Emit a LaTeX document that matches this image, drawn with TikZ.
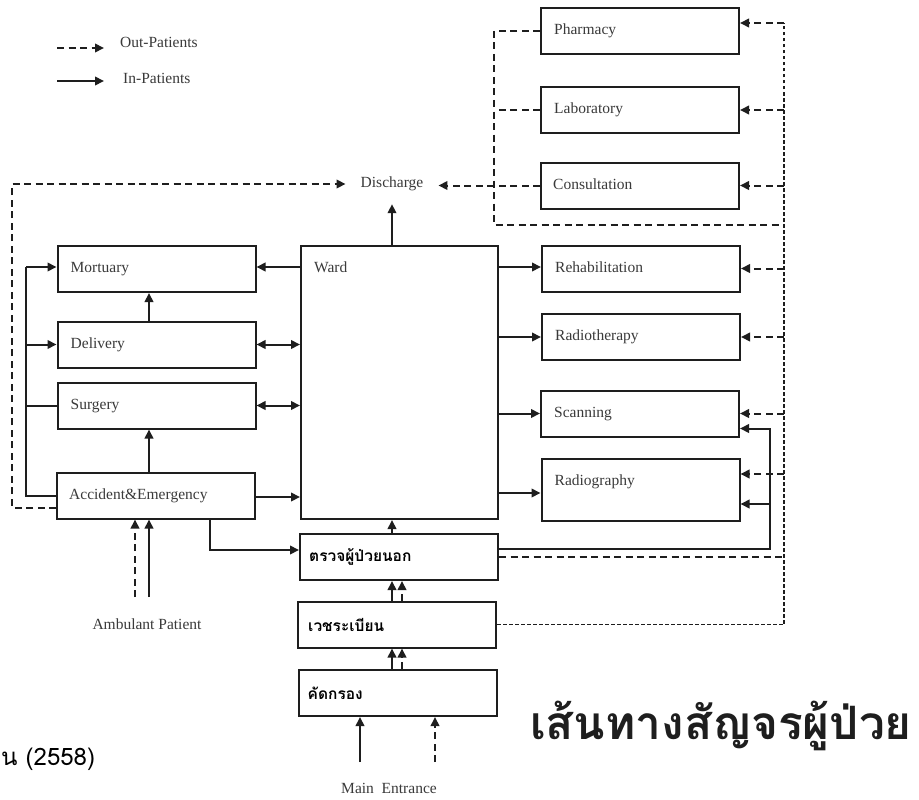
\documentclass[tikz,border=0pt]{standalone}
\usepackage{fontspec}
\setmainfont{Liberation Serif}
\newfontfamily\thaifont[Script=Thai]{Loma}
\usetikzlibrary{arrows.meta,calc}
\definecolor{ink}{HTML}{1E1E1E}
\definecolor{txt}{HTML}{3A3A3A}
\tikzset{
  box/.style={draw=ink, line width=2pt, minimum width=198pt, minimum height=46pt, inner sep=0pt},
  lbl/.style={text=txt, font=\fontsize{15.5}{18}\selectfont, anchor=west, inner sep=0pt,
              text height=10.5pt, text depth=3.5pt},
  thlbl/.style={text=black, font=\thaifont\bfseries\fontsize{15.5}{18}\selectfont, anchor=west, inner sep=0pt},
  tip/.tip={Triangle[length=9pt,width=8.5pt]},
  ln/.style={draw=ink, line width=2pt},
  sol/.style={ln, -tip},
  dbl/.style={ln, tip-tip},
  dshn/.style={draw=ink, line width=2pt, dash pattern=on 7pt off 4.5pt},
  dsh/.style={dshn, -tip},
  fdsh/.style={draw=ink, line width=1.7pt, dash pattern=on 3.5pt off 2.5pt},
  ttl/.style={font=\thaifont\bfseries\fontsize{46}{54}\selectfont, inner sep=0pt},
}
\begin{document}
\begin{tikzpicture}[x=1pt,y=-1pt]
\useasboundingbox (0,0) rectangle (919,800);
\fill[white] (0,0) rectangle (919,800);

% helper columns and rows
\coordinate (busR) at (784,0);
\coordinate (busC) at (494,0);
\coordinate (busS) at (770,0);
\coordinate (busL) at (26,0);
\coordinate (busO) at (12,0);
\coordinate (colA) at (149,0);
\coordinate (colE) at (210,0);
\coordinate (colM) at (392,0);
\coordinate (colMd) at (402,0);
\coordinate (loopY) at (0,225);
\coordinate (rowMort) at (0,267);

% legend
\coordinate (lgDa) at (57,48);
\coordinate (lgDb) at (104,48);
\coordinate (lgSa) at (57,81);
\coordinate (lgSb) at (104,81);
\draw[dsh] (lgDa) -- (lgDb);
\draw[sol] (lgSa) -- (lgSb);
\node[lbl] (lgOut) at (120,44) {Out-Patients};
\node[lbl] (lgIn) at (123,80) {In-Patients};

% right column
\node[box] (pharm) at (640,31) {};
\node[box] (lab) at (640,110) {};
\node[box] (cons) at (640,185.5) {};
\node[box] (rehab) at (641,268.5) {};
\node[box] (rther) at (641,337) {};
\node[box] (scan) at (640,413.5) {};
\node[box, minimum height=62pt] (rgraph) at (640.5,490) {};
\node[lbl] (pharmT) at ([xshift=14pt]pharm.west) {Pharmacy};
\node[lbl] (labT) at ([xshift=14pt]lab.west) {Laboratory};
\node[lbl] (consT) at ([xshift=13pt]cons.west) {Consultation};
\node[lbl] (rehabT) at ([xshift=14pt]rehab.west) {Rehabilitation};
\node[lbl] (rtherT) at ([xshift=14pt]rther.west) {Radiotherapy};
\node[lbl] (scanT) at ([xshift=14pt]scan.west) {Scanning};
\node[lbl] (rgraphT) at ([xshift=14pt,yshift=8pt]rgraph.west) {Radiography};

% left column
\node[box] (mort) at (156.5,269) {};
\node[box] (deliv) at (156.5,344.5) {};
\node[box] (surg) at (156.5,405.5) {};
\node[box] (ae) at (156,495.5) {};
\node[lbl] (mortT) at ([xshift=14pt]mort.west) {Mortuary};
\node[lbl] (delivT) at ([xshift=14pt]deliv.west) {Delivery};
\node[lbl] (surgT) at ([xshift=14pt]surg.west) {Surgery};
\node[lbl] (aeT) at ([xshift=13pt]ae.west) {Accident\&Emergency};

% middle column
\node[box, minimum width=197pt, minimum height=273pt] (ward) at (399.5,382.5) {};
\node[lbl] (wardT) at ([xshift=14pt,yshift=-24pt]ward.north west) {Ward};
\node[box] (opd) at (399,557) {};
\node[box] (reg) at (397,624.5) {};
\node[box] (scr) at (397.5,693) {};
\node[thlbl] (opdT) at ([xshift=10pt]opd.west) {ตรวจผู้ป่วยนอก};
\node[thlbl] (regT) at ([xshift=11pt]reg.west) {เวชระเบียน};
\node[thlbl] (scrT) at ([xshift=10pt]scr.west) {คัดกรอง};

\node[lbl, anchor=center, inner xsep=15pt, minimum height=40pt] (dis) at (392,184) {Discharge};

% off-centre ports on box sides
\coordinate (aeR) at ([yshift=-1.5pt]ae.east);
\coordinate (aeL) at ([yshift=-12pt]ae.west);
\coordinate (rgL) at ([yshift=-3pt]rgraph.west);
\coordinate (rgRi) at ([yshift=-14pt]rgraph.east);
\coordinate (rgRo) at ([yshift=16pt]rgraph.east);
\coordinate (scanRi) at ([yshift=-15pt]scan.east);
\coordinate (phR) at ([yshift=8pt]pharm.east);
\coordinate (opdRi) at ([yshift=8pt]opd.east);
\coordinate (opdL) at ([yshift=7pt]opd.west);

% entrances
\coordinate (meS) at (360,762);
\coordinate (meD) at (435,762);
\node[lbl, anchor=center] (meT) at (389,790) {Main\ \ Entrance};
\coordinate (ambS) at (149,597);
\coordinate (ambD) at (135,597);
\node[lbl, anchor=center] (ambT) at (147,626) {Ambulant Patient};

% in-patient flows, left side
\draw[ln] (ae.west) -- (busL |- ae.west) -- (busL |- rowMort);
\draw[sol] (busL |- rowMort) -- (mort.west |- rowMort);
\draw[sol] (busL |- deliv.west) -- (deliv.west);
\draw[ln] (busL |- surg.west) -- (surg.west);
\draw[sol] (deliv.north -| colA) -- (mort.south -| colA);
\draw[sol] (ae.north -| colA) -- (surg.south -| colA);
\draw[sol] (ward.west |- rowMort) -- (mort.east |- rowMort);
\draw[dbl] (deliv.east) -- (ward.west |- deliv.east);
\draw[dbl] (surg.east) -- (ward.west |- surg.east);
\draw[sol] (aeR) -- (ward.west |- aeR);
\draw[sol] (ae.south -| colE) |- (opdL);
\draw[sol] (ambS) -- (ae.south -| ambS);
\draw[dsh] (ambD) -- (ae.south -| ambD);

% in-patient flows, right side
\draw[sol] (ward.east |- rowMort) -- (rehab.west |- rowMort);
\draw[sol] (ward.east |- rther.west) -- (rther.west);
\draw[sol] (ward.east |- scan.west) -- (scan.west);
\draw[sol] (ward.east |- rgL) -- (rgL);
\draw[sol] (ward.north -| colM) -- (dis.south);
\draw[sol] (opdRi) -| (busS |- scanRi) -- (scanRi);
\draw[sol] (busS |- rgRi) -- (rgRi);

% main entrance chain
\draw[sol] (opd.north -| colM) -- (ward.south -| colM);
\draw[sol] (reg.north -| colM) -- (opd.south -| colM);
\draw[dsh] (reg.north -| colMd) -- (opd.south -| colMd);
\draw[sol] (scr.north -| colM) -- (reg.south -| colM);
\draw[dsh] (scr.north -| colMd) -- (reg.south -| colMd);
\draw[sol] (meS) -- (scr.south -| meS);
\draw[dsh] (meD) -- (scr.south -| meD);

% out-patient flows
\draw[dsh] (aeL) -| (busO |- dis.west) -- (dis.west);
\draw[dsh] (cons.west) -- (dis.east |- cons.west);
\draw[dshn] (pharm.west) -| (busC |- loopY) -- (busR |- loopY);
\draw[dshn] (lab.west) -- (busC |- lab.west);
\draw[fdsh] (reg.east) -- (busR |- reg.east) -- (busR |- phR);
\draw[dshn] (opd.east) -- (busR |- opd.east);
\draw[dsh] (busR |- phR) -- (phR);
\draw[dsh] (busR |- lab.east) -- (lab.east);
\draw[dsh] (busR |- cons.east) -- (cons.east);
\draw[dsh] (busR |- rehab.east) -- (rehab.east);
\draw[dsh] (busR |- rther.east) -- (rther.east);
\draw[dsh] (busR |- scan.east) -- (scan.east);
\draw[dsh] (busR |- rgRo) -- (rgRo);

% captions
\node[font=\thaifont\fontsize{24}{30}\selectfont, anchor=west, inner sep=0pt] (src) at (1,759) {น (2558)};
\node[ttl, text=ink] (ttl) at (721,726) {เส้นทางสัญจรผู้ป่วย};
\end{tikzpicture}
\end{document}
